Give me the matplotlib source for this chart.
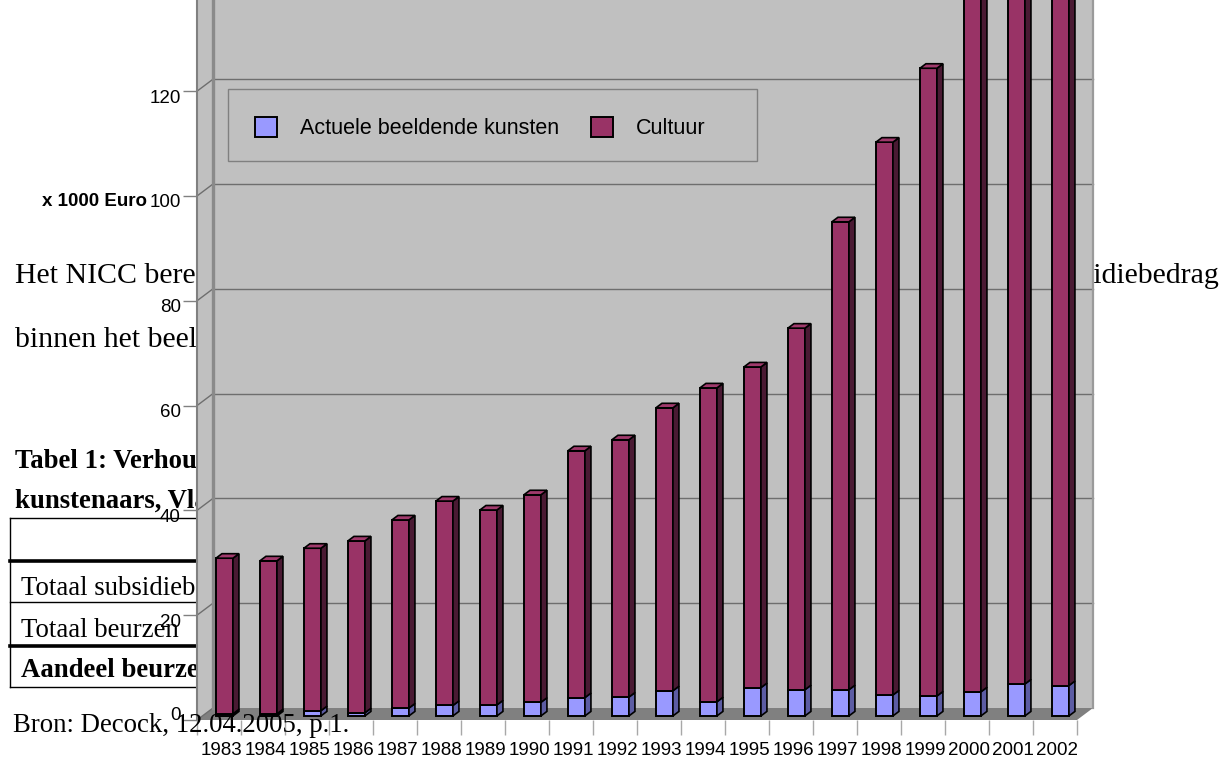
import matplotlib
matplotlib.use('Agg')
import matplotlib.pyplot as plt
from matplotlib.patches import Polygon, Rectangle
from matplotlib.lines import Line2D
from matplotlib.transforms import ScaledTranslation
import numpy as np

# ---------------- data ----------------
years = [str(y) for y in range(1983, 2003)]
actuele = [0.4, 0.4, 1.0, 0.6, 1.5, 2.0, 2.1, 2.6, 3.5, 3.6,
           4.8, 2.7, 5.4, 5.0, 5.0, 4.0, 3.8, 4.6, 6.1, 5.8]
cultuur = [29.7, 29.2, 31.0, 32.8, 35.9, 39.0, 37.2, 39.6, 47.1, 49.1,
           54.0, 59.9, 61.2, 69.0, 89.3, 105.5, 119.8, 145.0, 150.0, 160.0]
series_labels = ['Actuele beeldende kunsten', 'Cultuur']
yticks = [0, 20, 40, 60, 80, 100, 120]
unit_label = 'x 1000 Euro'

plt.rcParams['font.family'] = ['Liberation Sans', 'DejaVu Sans']

W, H = 1231, 769
fig = plt.figure(figsize=(W / 100, H / 100), dpi=100)
fig.patch.set_facecolor('white')


def fx(px):
    return px / W


def fy(py):
    return 1 - py / H


# ---------------- background document text ----------------
SERIF = ['Liberation Serif', 'DejaVu Serif']
body = 21.5
small = 19.3
doc = [
    (15, 283, 'Het NICC berekende het aandeel van de beurzen in het totale subsidiebedrag', body, 'normal', 'left', -2),
    (1220, 283, 'subsidiebedrag', body, 'normal', 'right', -2),
    (15, 347, 'binnen het beeldende kunstenveld.', body, 'normal', 'left', -2),
    (15, 468, 'Tabel 1: Verhouding subsidies en beurzen voor beeldende', small, 'bold', 'left', -2),
    (15, 508, 'kunstenaars, Vlaanderen', small, 'bold', 'left', -2),
    (21, 595, 'Totaal subsidiebedrag', small, 'normal', 'left', -2),
    (21, 637, 'Totaal beurzen', small, 'normal', 'left', -2),
    (21, 677, 'Aandeel beurzen', small, 'bold', 'left', -2),
    (13, 732, 'Bron: Decock, 12.04.2005, p.1.', small, 'normal', 'left', 4),
]
for x, y, s, fs, fw, ha, z in doc:
    fig.text(fx(x), fy(y), s, fontsize=fs, fontweight=fw, ha=ha, va='baseline',
             family=SERIF, color='black', zorder=z)

# table rules
for y, lw in [(518, 1.0), (561, 2.6), (602, 1.0), (646, 2.6), (687, 1.0)]:
    fig.add_artist(Line2D([fx(10), fx(420)], [fy(y), fy(y)], transform=fig.transFigure,
                          color='black', lw=lw, zorder=-1))
fig.add_artist(Line2D([fx(10), fx(10)], [fy(518), fy(687)], transform=fig.transFigure,
                      color='black', lw=1.0, zorder=-1))

# ---------------- chart (front plane axes) ----------------
X0, X1 = 197, 1077
Y0 = 720
PXU = 5.24
n = len(years)
ytop = Y0 / PXU
ax = fig.add_axes([fx(X0), fy(Y0), (X1 - X0) / W, Y0 / H])
ax.set_xlim(0, n)
ax.set_ylim(0, ytop)
ax.patch.set_visible(False)

DX = 16 / ((X1 - X0) / n)
DY = 12 / PXU

wall_c = '#c0c0c0'
floor_c = '#808080'
grid_c = '#6e6e6e'
top = ytop + 10

ax.add_patch(Polygon([(0, 0), (DX, DY), (DX, top), (0, top)], closed=True,
                     facecolor=wall_c, edgecolor='none', clip_on=False, zorder=0.5))
ax.add_patch(Polygon([(DX, DY), (n + DX, DY), (n + DX, top), (DX, top)], closed=True,
                     facecolor=wall_c, edgecolor='none', clip_on=False, zorder=0.5))
ax.add_patch(Polygon([(0, 0), (n, 0), (n + DX, DY), (DX, DY)], closed=True,
                     facecolor=floor_c, edgecolor='none', clip_on=False, zorder=0.6))

for v in yticks[1:]:
    ax.plot([DX, n + DX], [v + DY, v + DY], color=grid_c, lw=1.0, clip_on=False, zorder=0.7)
    ax.plot([0, DX], [v, v + DY], color=grid_c, lw=1.0, clip_on=False, zorder=0.7)
ax.plot([0, DX], [0, DY], color=grid_c, lw=1.0, clip_on=False, zorder=0.7)
# wall edges
ax.plot([DX, DX], [DY, top], color='#8a8a8a', lw=2.4, clip_on=False, zorder=0.8)
ax.plot([n + DX, n + DX], [DY, top], color='#9a9a9a', lw=1.6, clip_on=False, zorder=0.8)

# bars
f = 0.34
d = 0.375
w = 17 / ((X1 - X0) / n)
xc = np.arange(n) + 0.5
xf = xc + f * DX
base = f * DY
act = np.array(actuele)
cul = np.array(cultuur)

front_blue = '#9999ff'
side_blue = '#5c5ca3'
front_purple = '#993366'
side_purple = '#4a1a33'
top_purple = '#a03a6c'

b1 = ax.bar(xf, act, width=w, bottom=base, color=front_blue, edgecolor='black',
            linewidth=1.4, zorder=3, clip_on=False)
b2 = ax.bar(xf, cul, width=w, bottom=base + act, color=front_purple, edgecolor='black',
            linewidth=1.4, zorder=3, clip_on=False)

ddx, ddy = d * DX, d * DY
for i in range(n):
    x1 = xf[i] + w / 2
    x0 = xf[i] - w / 2
    segs = [(base, base + act[i], side_blue), (base + act[i], base + act[i] + cul[i], side_purple)]
    for lo, hi, col in segs:
        ax.add_patch(Polygon([(x1, lo), (x1 + ddx, lo + ddy), (x1 + ddx, hi + ddy), (x1, hi)],
                             closed=True, facecolor=col, edgecolor='black', lw=1.2,
                             zorder=3, clip_on=False))
    t = base + act[i] + cul[i]
    ax.add_patch(Polygon([(x0, t), (x1, t), (x1 + ddx, t + ddy), (x0 + ddx, t + ddy)],
                         closed=True, facecolor=top_purple, edgecolor='black', lw=1.2,
                         zorder=3, clip_on=False))

# axes / ticks
for s in ['top', 'right', 'bottom']:
    ax.spines[s].set_visible(False)
ax.spines['left'].set_color('#808080')
ax.spines['left'].set_linewidth(1.5)
ax.spines['left'].set_zorder(0.9)

ax.set_yticks(yticks)
ax.set_yticklabels([str(v) for v in yticks])
ax.tick_params(axis='y', length=14 * 0.72, width=1.0, color='#808080', pad=1.5,
               labelsize=13.5, labelcolor='black')
for lab, v in zip(ax.get_yticklabels(), yticks):
    dy_px = 7 if v == 0 else -5
    lab.set_transform(lab.get_transform() + ScaledTranslation(0, dy_px / 100, fig.dpi_scale_trans))

ax.set_xticks(np.arange(n + 1))
ax.set_xticklabels([''] * (n + 1))
ax.set_xticks(xc, minor=True)
ax.set_xticklabels(years, minor=True)
ax.tick_params(axis='x', which='major', length=15 * 0.72, width=1.0, color='#a8a8a8')
ax.tick_params(axis='x', which='minor', length=0, pad=16.0, labelsize=13.5, labelcolor='black')
for lab in ax.get_xticklabels(minor=True):
    lab.set_transform(lab.get_transform() + ScaledTranslation(2 / 100, 0, fig.dpi_scale_trans))

fig.text(fx(147), fy(202), unit_label, ha='right', va='center', fontsize=13.5,
         fontweight='bold', color='black', zorder=5)

# legend
ax.add_patch(Rectangle((fx(228), fy(161)), (757 - 228) / W, (161 - 89) / H,
                       transform=fig.transFigure, facecolor=wall_c, edgecolor='#808080',
                       lw=1.0, clip_on=False, zorder=4))
leg = ax.legend([b1, b2], series_labels, loc='center left',
                bbox_to_anchor=(fx(255), fy(128)), bbox_transform=fig.transFigure,
                frameon=False, ncol=2, fontsize=15.5, handlelength=1.03, handleheight=1.03,
                handletextpad=1.05, columnspacing=1.5, borderpad=0, borderaxespad=0)
leg.set_zorder(5)

fig.savefig('out.png', dpi=100)
